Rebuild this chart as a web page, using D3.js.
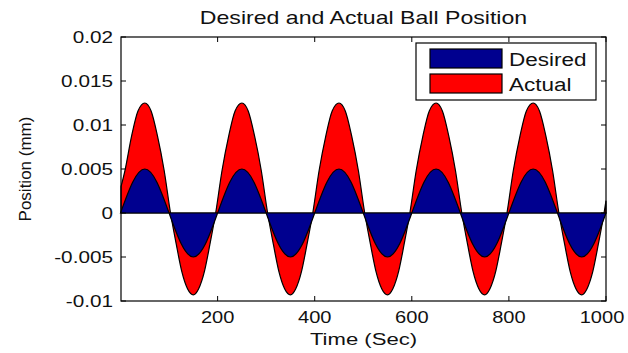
<!DOCTYPE html>
<html>
<head>
<meta charset="utf-8">
<script src="https://cdn.jsdelivr.net/npm/d3@7"></script>
<style>
  body { margin: 0; background: #fff; }
  text { font-family: "Liberation Sans", Arial, sans-serif; fill: #111; }
</style>
</head>
<body>
<svg id="chart" width="628" height="353"></svg>
<script>
// desired position, sampled every 25 sec
const desiredTime = [0, 25, 50, 75, 100, 125, 150, 175, 200, 225, 250, 275, 300, 325, 350, 375, 400,
  425, 450, 475, 500, 525, 550, 575, 600, 625, 650, 675, 700, 725, 750, 775, 800,
  825, 850, 875, 900, 925, 950, 975, 1000];
const desiredValue = [0, 0.0035, 0.005, 0.0035, 0, -0.0035, -0.005, -0.0035,
  0, 0.0035, 0.005, 0.0035, 0, -0.0035, -0.005, -0.0035,
  0, 0.0035, 0.005, 0.0035, 0, -0.0035, -0.005, -0.0035,
  0, 0.0035, 0.005, 0.0035, 0, -0.0035, -0.005, -0.0035,
  0, 0.0035, 0.005, 0.0035, 0, -0.0035, -0.005, -0.0035, 0];

// actual position
const actualTime = [1, 9, 23, 36, 50, 63, 76, 90, 103, 115, 126, 138, 150, 161, 173, 184, 196,
  209, 223, 236, 250, 263, 276, 290, 303, 315, 326, 338, 350, 361, 373, 384, 396,
  409, 423, 436, 450, 463, 476, 490, 503, 515, 526, 538, 550, 561, 573, 584, 596,
  609, 623, 636, 650, 663, 676, 690, 703, 715, 726, 738, 750, 761, 773, 784, 796,
  809, 823, 836, 850, 863, 876, 890, 903, 915, 926, 938, 950, 961, 973, 984, 996, 1000];
const actualValue = [0.003, 0.0048, 0.0088, 0.0116, 0.0125, 0.0116, 0.0088, 0.0048, 0,
  -0.0036, -0.0066, -0.0086, -0.0093, -0.0086, -0.0066, -0.0036, 0,
  0.0048, 0.0088, 0.0116, 0.0125, 0.0116, 0.0088, 0.0048, 0,
  -0.0036, -0.0066, -0.0086, -0.0093, -0.0086, -0.0066, -0.0036, 0,
  0.0048, 0.0088, 0.0116, 0.0125, 0.0116, 0.0088, 0.0048, 0,
  -0.0036, -0.0066, -0.0086, -0.0093, -0.0086, -0.0066, -0.0036, 0,
  0.0048, 0.0088, 0.0116, 0.0125, 0.0116, 0.0088, 0.0048, 0,
  -0.0036, -0.0066, -0.0086, -0.0093, -0.0086, -0.0066, -0.0036, 0,
  0.0048, 0.0088, 0.0116, 0.0125, 0.0116, 0.0088, 0.0048, 0,
  -0.0036, -0.0066, -0.0086, -0.0093, -0.0086, -0.0066, -0.0036, 0, 0.0014];

const xTicks = [200, 400, 600, 800, 1000];
const yTicks = [-0.01, -0.005, 0, 0.005, 0.01, 0.015, 0.02];
const yTickLabels = ['-0.01', '-0.005', '0', '0.005', '0.01', '0.015', '0.02'];
const seriesNames = ['Desired', 'Actual'];
const seriesColors = ['#00008f', '#ff0000'];

const svg = d3.select('#chart'),
  margin = {top: 37, right: 22, bottom: 52, left: 121},
  width = +svg.attr('width') - margin.left - margin.right,
  height = +svg.attr('height') - margin.top - margin.bottom;

const x = d3.scaleLinear().domain([1, 1000]).range([0, width]),
  y = d3.scaleLinear().domain([-0.01, 0.02]).range([height, 0]);

const g = svg.append('g')
  .attr('transform', 'translate(' + margin.left + ',' + margin.top + ')');

const actual = actualTime.map((t, i) => [t, actualValue[i]]);
const desired = desiredTime.map((t, i) => [t, desiredValue[i]]);

const areaMono = d3.area().curve(d3.curveMonotoneX)
  .x(d => x(d[0])).y0(y(0)).y1(d => y(d[1]));
const areaNat = d3.area().curve(d3.curveNatural)
  .x(d => x(d[0])).y0(y(0)).y1(d => y(d[1]));

g.append('path').datum(actual)
  .attr('d', areaMono)
  .attr('fill', seriesColors[1]).attr('stroke', '#000').attr('stroke-width', 1.2);
g.append('path').datum(desired)
  .attr('d', areaNat)
  .attr('fill', seriesColors[0]).attr('stroke', '#000').attr('stroke-width', 1.2);

// frame and inward ticks
g.append('rect').attr('width', width).attr('height', height)
  .attr('fill', 'none').attr('stroke', '#000').attr('stroke-width', 1.2);

const tickLen = 5;
g.selectAll('.xt').data(xTicks).enter().append('path')
  .attr('stroke', '#000')
  .attr('d', d => 'M' + x(d) + ',' + height + 'v' + (-tickLen) + 'M' + x(d) + ',0v' + tickLen);
g.selectAll('.yt').data(yTicks).enter().append('path')
  .attr('stroke', '#000')
  .attr('d', d => 'M0,' + y(d) + 'h' + tickLen + 'M' + width + ',' + y(d) + 'h' + (-tickLen));

// the reference text is stretched sideways, so each label gets an x scale
function label(parent, tx, ty, str, anchor, size, sx) {
  return parent.append('text')
    .attr('transform', 'translate(' + tx + ',' + ty + ') scale(' + sx + ',1)')
    .attr('text-anchor', anchor)
    .attr('font-size', size)
    .text(str);
}

yTicks.forEach((d, i) => label(g, -8, y(d) + 6, yTickLabels[i], 'end', 17, 1.22));
xTicks.forEach(d => label(g, Math.min(x(d), width - 4), height + 22, String(d), 'middle', 17, 1.18));

label(g, width / 2, height + 44, 'Time (Sec)', 'middle', 17, 1.3);
label(g, width / 2, -13, 'Desired and Actual Ball Position', 'middle', 17.5, 1.32);
svg.append('text')
  .attr('transform', 'translate(31,' + (margin.top + height / 2) + ') rotate(-90)')
  .attr('text-anchor', 'middle')
  .attr('font-size', 17)
  .text('Position (mm)');

// legend
const lg = svg.append('g').attr('transform', 'translate(416,43)');
lg.append('rect').attr('width', 180).attr('height', 57)
  .attr('fill', '#fff').attr('stroke', '#000').attr('stroke-width', 1.2);
seriesNames.forEach((name, i) => {
  lg.append('rect')
    .attr('x', 14).attr('y', 6 + i * 25).attr('width', 72).attr('height', 19)
    .attr('fill', seriesColors[i]).attr('stroke', '#000').attr('stroke-width', 1.2);
  label(lg, 93, 23 + i * 25, name, 'start', 18, 1.25);
});
</script>
</body>
</html>
